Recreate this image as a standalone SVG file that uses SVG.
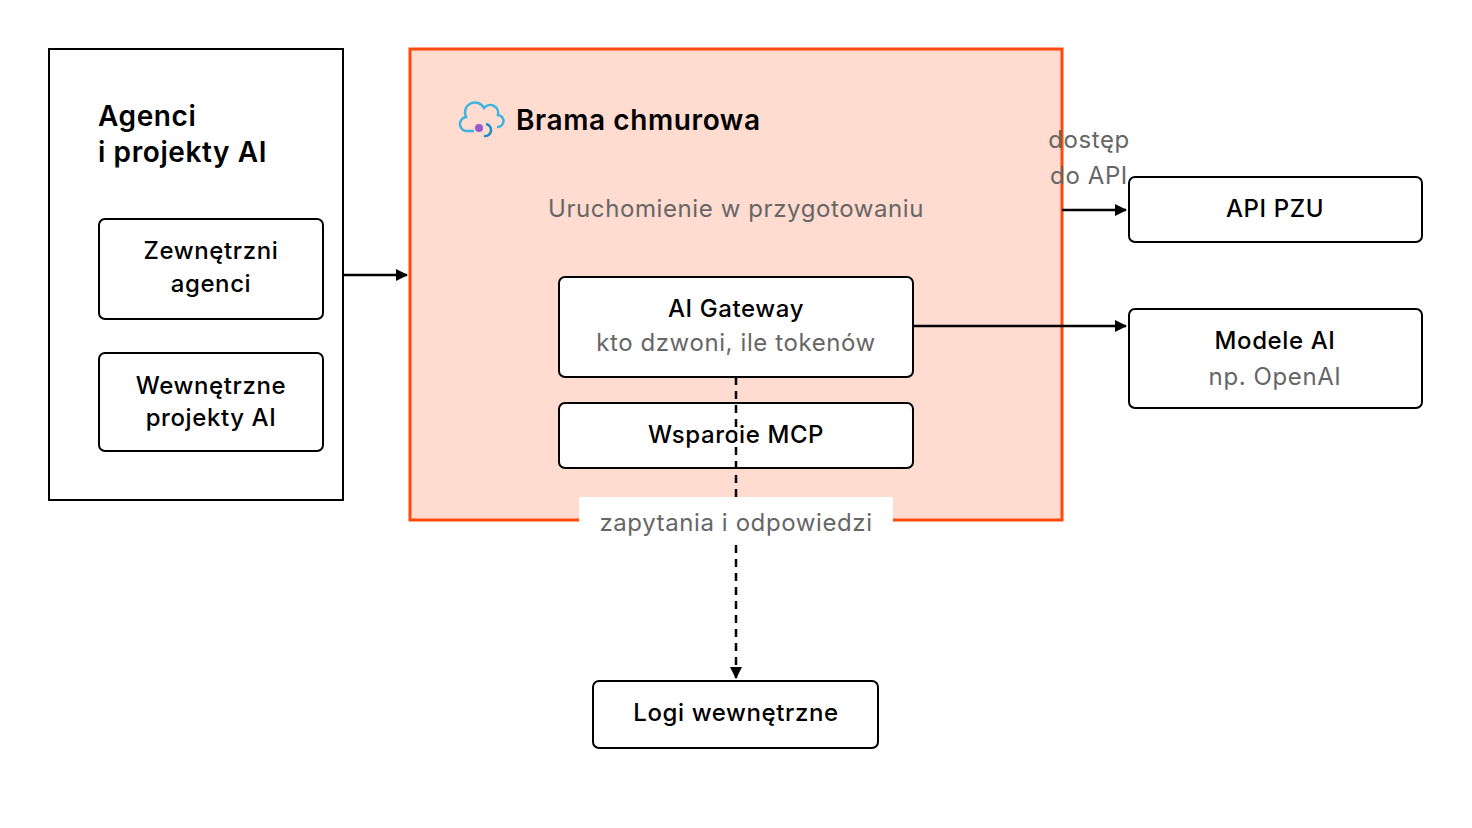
<svg xmlns="http://www.w3.org/2000/svg" width="1472" height="828" viewBox="0 0 1472 828">
<defs>
<style>
text{font-family:Inter,"Noto Sans",sans-serif;fill:#000;letter-spacing:0.6px}
.t{font-size:24px;text-anchor:middle;font-weight:500}
.g{fill:#666;font-size:24px;text-anchor:middle}
.box{fill:#fff;stroke:#000;stroke-width:2}
.ln{stroke:#000;stroke-width:2.5;fill:none}
</style>
<marker id="a" markerWidth="12" markerHeight="12" refX="11" refY="6" orient="auto" markerUnits="userSpaceOnUse"><path d="M0,0L12,6L0,12z" fill="#000"/></marker>
</defs>
<rect width="1472" height="828" fill="#fff"/>
<g id="agents">
<rect x="49" y="49" width="294" height="451" fill="#fff" stroke="#000" stroke-width="2"/>
<text x="98" y="126" font-size="28" font-weight="600">Agenci</text>
<text x="98" y="162" font-size="28" font-weight="600">i projekty AI</text>
</g>
<g id="ext"><rect class="box" x="99" y="219" width="224" height="100" rx="6"/><text class="t" x="211" y="259">Zewnętrzni</text><text class="t" x="211" y="292">agenci</text></g>
<g id="int"><rect class="box" x="99" y="353" width="224" height="98" rx="6"/><text class="t" x="211" y="394">Wewnętrzne</text><text class="t" x="211" y="426">projekty AI</text></g>
<g id="gateway">
<rect x="410" y="49" width="652" height="471" fill="#ffdbd0" stroke="#ff4a0a" stroke-width="3"/>
<g fill="none" stroke-width="2.5"><path d="M474,131 h-6 a7,7 0 0 1 -2,-14 a10,10 0 0 1 18,-9 a8,8 0 0 1 14,7 a6,6 0 0 1 -1,12" stroke="#3bb4e0"/><path d="M486,124 a6,6 0 0 1 -2,12" stroke="#1c8fc8"/></g>
<circle cx="479" cy="128" r="4" fill="#9b59d0"/>
<text x="516" y="130" font-size="28" font-weight="600">Brama chmurowa</text>
<text class="g" x="736" y="217">Uruchomienie w przygotowaniu</text>
</g>
<g id="aig"><rect class="box" x="559" y="277" width="354" height="100" rx="6"/><text class="t" x="736" y="317">AI Gateway</text><text class="g" x="736" y="351">kto dzwoni, ile tokenów</text></g>
<g id="mcp"><rect class="box" x="559" y="403" width="354" height="65" rx="6"/><text class="t" x="736" y="443">Wsparcie MCP</text></g>
<g id="api"><rect class="box" x="1129" y="177" width="293" height="65" rx="6"/><text class="t" x="1275" y="217">API PZU</text></g>
<g id="models"><rect class="box" x="1129" y="309" width="293" height="99" rx="6"/><text class="t" x="1275" y="349">Modele AI</text><text class="g" x="1275" y="385">np. OpenAI</text></g>
<g id="logs"><rect class="box" x="593" y="681" width="285" height="67" rx="6"/><text class="t" x="736" y="721">Logi wewnętrzne</text></g>
<g id="connectors">
<path class="ln" d="M343,275H407" marker-end="url(#a)"/>
<path class="ln" d="M1062,210H1126" marker-end="url(#a)"/>
<text class="g" x="1089" y="148">dostęp</text><text class="g" x="1089" y="184">do API</text>
<path class="ln" d="M913,326H1126" marker-end="url(#a)"/>
<path class="ln" d="M736,377V678" stroke-dasharray="8,6" marker-end="url(#a)"/>
<rect x="579" y="497" width="314" height="44" fill="#fff"/>
<text class="g" x="736" y="531">zapytania i odpowiedzi</text>
</g>
</svg>
